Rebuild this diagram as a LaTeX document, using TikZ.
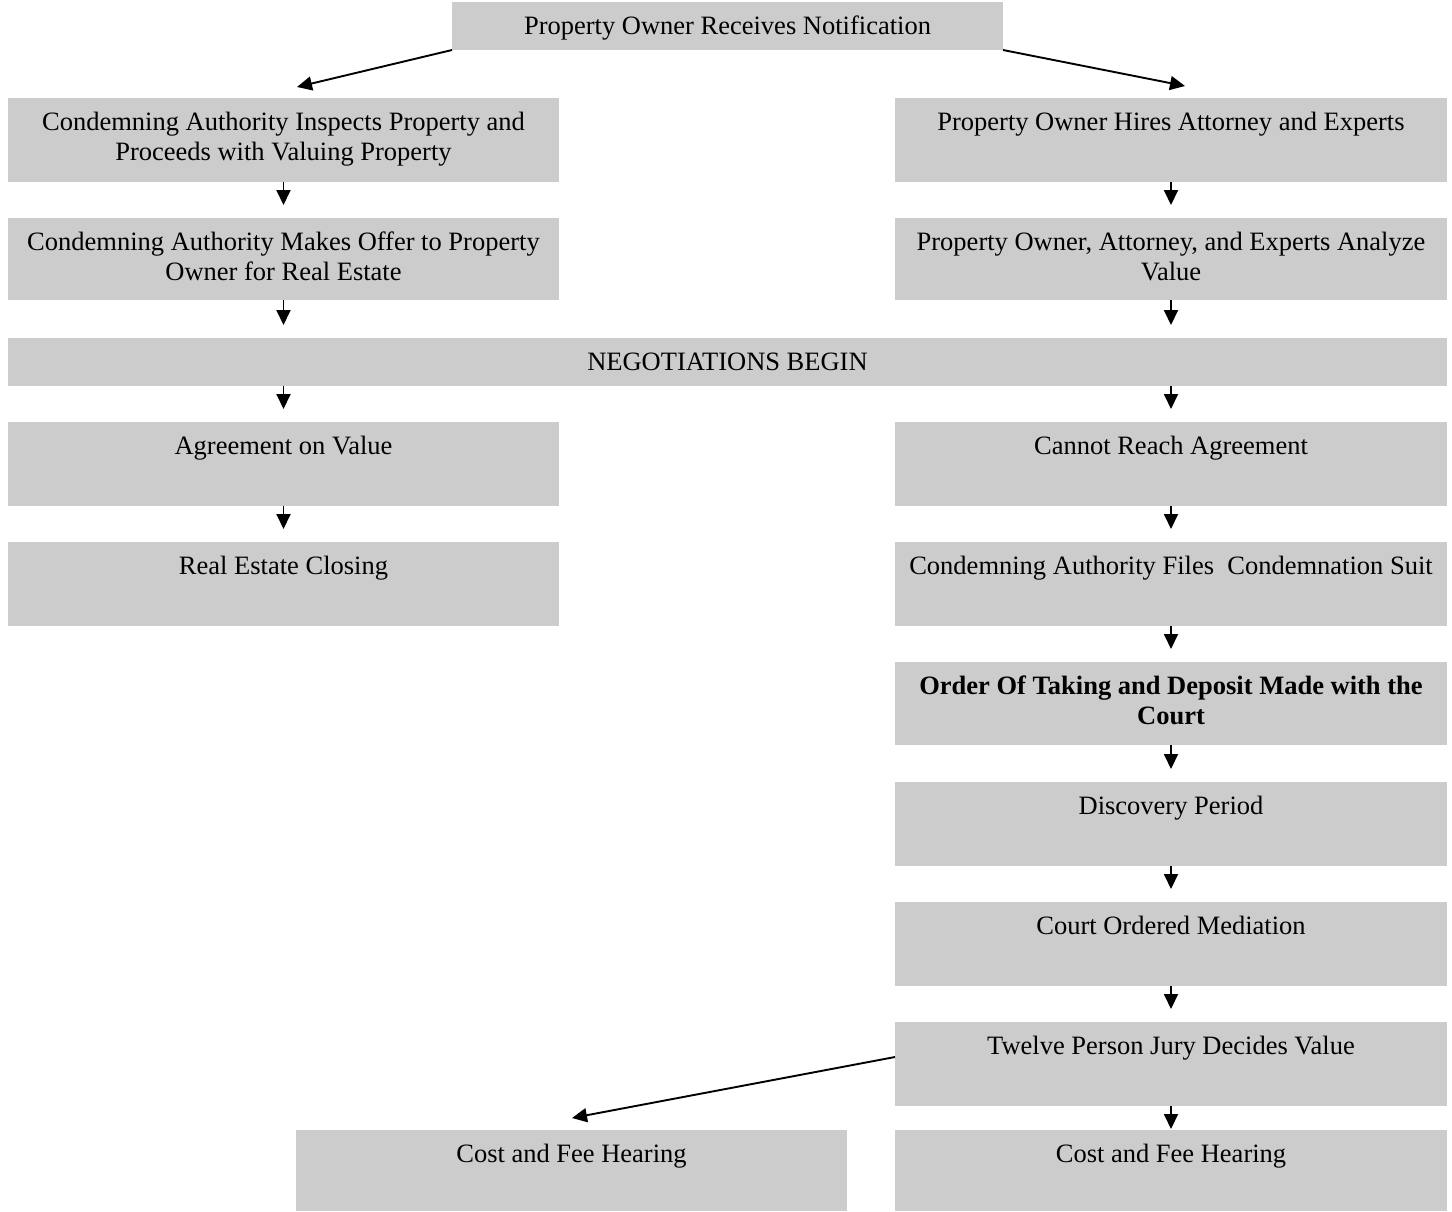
\documentclass[tikz,border=0pt]{standalone}
\usepackage{fontspec}
\setmainfont{Liberation Serif}
\usetikzlibrary{arrows.meta}
\definecolor{boxgray}{HTML}{CCCCCC}
\newcommand\fbt[3]{\parbox[c][#2][t]{#1}{\centering\rule{0pt}{32pt}#3\par}}
\tikzset{
  flowbox/.style={fill=boxgray, draw=none, inner sep=0pt, outer sep=0pt, anchor=north west,
    font=\fontsize{26.5}{30}\selectfont},
  flowarrow/.style={line width=1.9pt, -{Triangle[length=15pt,width=14pt]}},
}
\begin{document}
\begin{tikzpicture}[x=1pt,y=-1pt]
\useasboundingbox (0,0) rectangle (1452,1211);
\fill[white] (0,0) rectangle (1452,1211);
\node[flowbox] (top) at (452,2) {\fbt{551pt}{48pt}{Property Owner Receives Notification}};
\node[flowbox] (L1) at (8,98) {\fbt{551pt}{84pt}{Condemning Authority Inspects Property and\\Proceeds with Valuing Property}};
\node[flowbox] (R1) at (895,98) {\fbt{552pt}{84pt}{Property Owner Hires Attorney and Experts}};
\node[flowbox] (L2) at (8,218) {\fbt{551pt}{82pt}{Condemning Authority Makes Offer to Property\\Owner for Real Estate}};
\node[flowbox] (R2) at (895,218) {\fbt{552pt}{82pt}{Property Owner, Attorney, and Experts Analyze\\Value}};
\node[flowbox] (neg) at (8,338) {\fbt{1439pt}{48pt}{NEGOTIATIONS BEGIN}};
\node[flowbox] (L3) at (8,422) {\fbt{551pt}{84pt}{Agreement on Value}};
\node[flowbox] (R3) at (895,422) {\fbt{552pt}{84pt}{Cannot Reach Agreement}};
\node[flowbox] (L4) at (8,542) {\fbt{551pt}{84pt}{Real Estate Closing}};
\node[flowbox] (R4) at (895,542) {\fbt{552pt}{84pt}{Condemning Authority Files\ \ Condemnation Suit}};
\node[flowbox] (R5) at (895,662) {\fbt{552pt}{83pt}{\bfseries Order Of Taking and Deposit Made with the\\Court}};
\node[flowbox] (R6) at (895,782) {\fbt{552pt}{84pt}{Discovery Period}};
\node[flowbox] (R7) at (895,902) {\fbt{552pt}{84pt}{Court Ordered Mediation}};
\node[flowbox] (R8) at (895,1022) {\fbt{552pt}{84pt}{Twelve Person Jury Decides Value}};
\node[flowbox] (L9) at (296,1130) {\fbt{551pt}{81pt}{Cost and Fee Hearing}};
\node[flowbox] (R9) at (895,1130) {\fbt{552pt}{81pt}{Cost and Fee Hearing}};
\coordinate (tipL) at (297,87);
\coordinate (tipR) at (1185,86);
\coordinate (tipB) at (572,1118);
\draw[flowarrow] (top.south west) -- (tipL);
\draw[flowarrow] (top.south east) -- (tipR);
\draw[flowarrow, shorten >=13pt] (L1.south) -- (L2.north);
\draw[flowarrow, shorten >=13pt] (R1.south) -- (R2.north);
\draw[flowarrow, shorten >=13pt] (L2.south) -- (L2.south |- neg.north);
\draw[flowarrow, shorten >=13pt] (R2.south) -- (R2.south |- neg.north);
\draw[flowarrow, shorten >=13pt] (neg.south -| L3.north) -- (L3.north);
\draw[flowarrow, shorten >=13pt] (neg.south -| R3.north) -- (R3.north);
\draw[flowarrow, shorten >=13pt] (L3.south) -- (L4.north);
\draw[flowarrow, shorten >=13pt] (R3.south) -- (R4.north);
\draw[flowarrow, shorten >=13pt] (R4.south) -- (R5.north);
\draw[flowarrow, shorten >=13pt] (R5.south) -- (R6.north);
\draw[flowarrow, shorten >=13pt] (R6.south) -- (R7.north);
\draw[flowarrow, shorten >=13pt] (R7.south) -- (R8.north);
\draw[flowarrow, shorten >=1pt] (R8.south) -- (R9.north);
\draw[flowarrow] ([yshift=7pt]R8.west) -- (tipB);
\end{tikzpicture}
\end{document}
